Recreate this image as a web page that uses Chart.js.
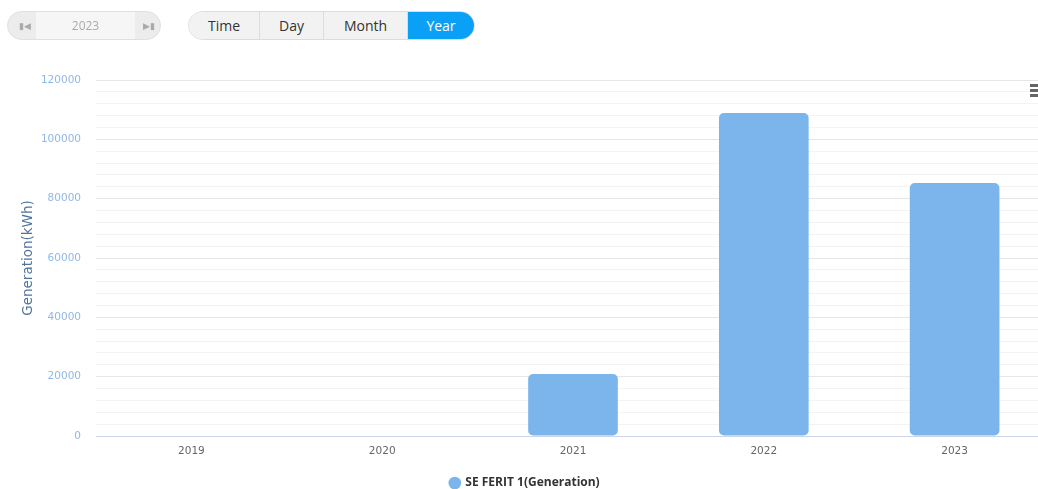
<!DOCTYPE html>
<html>
<head>
<meta charset="utf-8">
<script src="https://cdn.jsdelivr.net/npm/chart.js@4"></script>
<style>
  html, body { margin: 0; padding: 0; background: #fff; overflow: hidden; width: 1038px; height: 489px; }
  #wrap { position: absolute; left: 0; top: 0; width: 1050px; height: 501px; }
  .pager { position: absolute; left: 7px; top: 11px; width: 152px; height: 27px; border: 1px solid #e0e0e0; border-radius: 15px; background: #ececec; overflow: hidden; font-family: "Open Sans", sans-serif; }
  .pager .mid { position: absolute; left: 28px; width: 99px; top: 0; height: 27px; background: #f6f6f6; color: #aaa; font-size: 12px; line-height: 27px; text-align: center; }
  .pager .ic { position: absolute; top: 0; height: 27px; line-height: 27px; font-size: 9px; color: #aaa; }
  .tabs { position: absolute; left: 188px; top: 11px; height: 27px; display: flex; border: 1px solid #dcdcdc; border-radius: 15px; overflow: hidden; font-family: "Open Sans", sans-serif; font-size: 14px; }
  .tabs div { height: 27px; line-height: 27px; text-align: center; background: #f2f2f2; color: #333; border-right: 1px solid #dcdcdc; }
  .tabs div.on { background: #0aa0f5; color: #fff; border-right: none; }
  .menu { position: absolute; left: 1030px; top: 84px; width: 8px; }
  .menu span { display: block; height: 3px; background: #666; margin-bottom: 2px; }
</style>
</head>
<body>
<div id="wrap"><canvas id="genChart"></canvas></div>
<div class="pager"><span class="ic" style="left:11px">&#9646;&#9664;</span><div class="mid">2023</div><span class="ic" style="left:135px">&#9654;&#9646;</span></div>
<div class="tabs">
  <div style="width:70px">Time</div>
  <div style="width:63px">Day</div>
  <div style="width:83px">Month</div>
  <div class="on" style="width:66px">Year</div>
</div>
<div class="menu"><span></span><span></span><span></span></div>
<script>
const years = ['2019', '2020', '2021', '2022', '2023'];
const generation = [0, 0, 20900, 108900, 85300];
const seriesName = 'SE FERIT 1(Generation)';
const yTitle = 'Generation(kWh)';

document.addEventListener('DOMContentLoaded', function() {
    const ctx = document.getElementById('genChart').getContext('2d');

    new Chart(ctx, {
        type: 'bar',
        data: {
            labels: years,
            datasets: [{
                label: seriesName,
                data: generation,
                backgroundColor: '#7cb5ec',
                borderColor: '#7cb5ec',
                borderRadius: 5,
                borderSkipped: false,
                categoryPercentage: 1,
                barPercentage: 0.47
            }]
        },
        options: {
            responsive: true,
            maintainAspectRatio: false,
            animation: false,
            layout: { padding: { top: 80, bottom: 2, left: 0, right: 0 } },
            plugins: {
                tooltip: { enabled: false },
                legend: {
                    position: 'bottom',
                    labels: {
                        usePointStyle: true,
                        pointStyle: 'circle',
                        boxWidth: 9,
                        boxHeight: 9,
                        color: '#333',
                        padding: 12,
                        font: { family: 'Open Sans', size: 12, weight: 'bold' }
                    }
                }
            },
            scales: {
                x: {
                    grid: { display: false, drawTicks: false },
                    border: { display: true, color: '#ccd6eb', width: 1 },
                    ticks: { color: '#666', padding: 9, font: { family: 'DejaVu Sans', size: 10.5 } },
                    afterFit: function(scale) { scale.height = 29; }
                },
                y: {
                    min: 0,
                    max: 120000,
                    grid: {
                        drawTicks: false,
                        color: function(c) { return c.tick && c.tick.value % 20000 === 0 ? '#e6e6e6' : '#f3f3f3'; }
                    },
                    border: { display: false },
                    ticks: {
                        stepSize: 4000,
                        autoSkip: false,
                        padding: 15,
                        color: '#8fb8ea',
                        font: { family: 'DejaVu Sans', size: 10.5 },
                        callback: function(v) { return v % 20000 === 0 ? v : ''; }
                    },
                    title: {
                        display: true,
                        text: yTitle,
                        color: '#4f749c',
                        font: { family: 'DejaVu Sans', size: 13.5 },
                        padding: { top: 20, bottom: 0 }
                    },
                    afterFit: function(scale) { scale.width = 96; }
                }
            }
        }
    });
});
</script>
</body>
</html>
